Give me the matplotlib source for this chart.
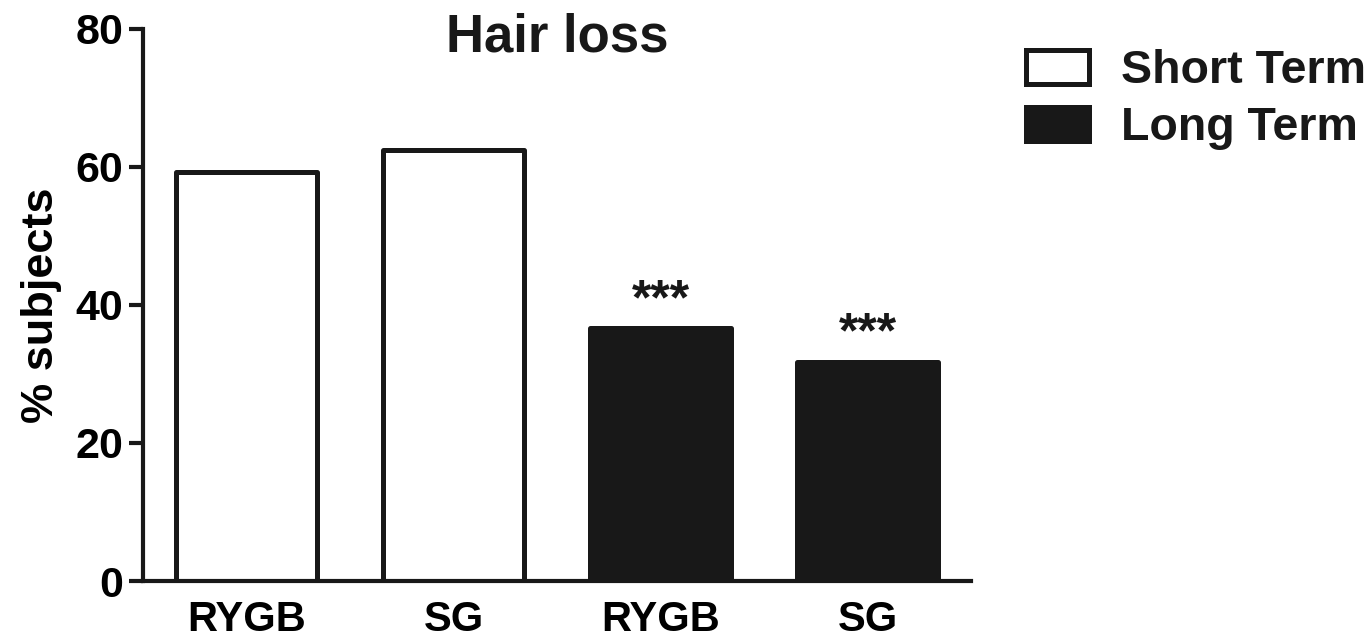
import matplotlib
matplotlib.use("Agg")
import matplotlib.pyplot as plt
from matplotlib.patches import Patch

plt.rcParams['font.family'] = ['Liberation Sans', 'DejaVu Sans']
plt.rcParams['font.weight'] = 'bold'

categories = ["RYGB", "SG", "RYGB", "SG"]
values = [59.2, 62.4, 36.7, 31.8]
groups = ["Short Term", "Short Term", "Long Term", "Long Term"]
annotations = ["", "", "***", "***"]
yticks = [0, 20, 40, 60, 80]

INK = "#181818"
fig = plt.figure(figsize=(13.7, 6.42), dpi=100)
ax = fig.add_axes([0.1044, 0.095, 0.6044, 0.86])

x = list(range(len(categories)))
for xi, v, g in zip(x, values, groups):
    face = "white" if g == "Short Term" else INK
    b = ax.bar(xi, v, width=0.68, facecolor=face, edgecolor=INK, linewidth=3.6, zorder=2)
    for p in b:
        p.set_joinstyle('round')

for xi, v, a in zip(x, values, annotations):
    if a:
        ax.text(xi, v + 2.0, a, ha='center', va='baseline', fontsize=36, fontweight='bold', color=INK)

ax.set_xlim(-0.5, 3.5)
ax.set_ylim(0, 80)
ax.set_xticks(x)
ax.set_xticklabels(categories, fontsize=30, fontweight='bold')
ax.set_yticks(yticks)
ax.set_yticklabels([str(t) for t in yticks], fontsize=31, fontweight='bold')
ax.tick_params(axis='x', length=0, pad=14)
ax.tick_params(axis='y', length=10, width=3, color=INK, pad=4)
for s in ['top', 'right']:
    ax.spines[s].set_visible(False)
for s in ['left', 'bottom']:
    ax.spines[s].set_linewidth(3)
    ax.spines[s].set_color(INK)
ax.set_ylabel("% subjects", fontsize=32.5, fontweight='bold')
ax.yaxis.set_label_coords(-0.098, 0.5)

fig.text(557 / 1370, 1 - 52 / 642, "Hair loss", ha='center', va='baseline',
         fontsize=38, fontweight='bold', color=INK)

handles = [Patch(facecolor='white', edgecolor=INK, linewidth=3.6, joinstyle='round', label="Short Term"),
           Patch(facecolor=INK, edgecolor=INK, linewidth=3.6, joinstyle='round', label="Long Term")]
leg = fig.legend(handles=handles, loc='upper left', bbox_to_anchor=(0.749, 0.924),
                 frameon=False, fontsize=33.5, handlelength=1.35, handleheight=0.75,
                 handletextpad=0.68, labelspacing=0.28, borderaxespad=0, borderpad=0)
for t in leg.get_texts():
    t.set_fontweight('bold')
    t.set_color(INK)

fig.savefig("out.png", dpi=100)
